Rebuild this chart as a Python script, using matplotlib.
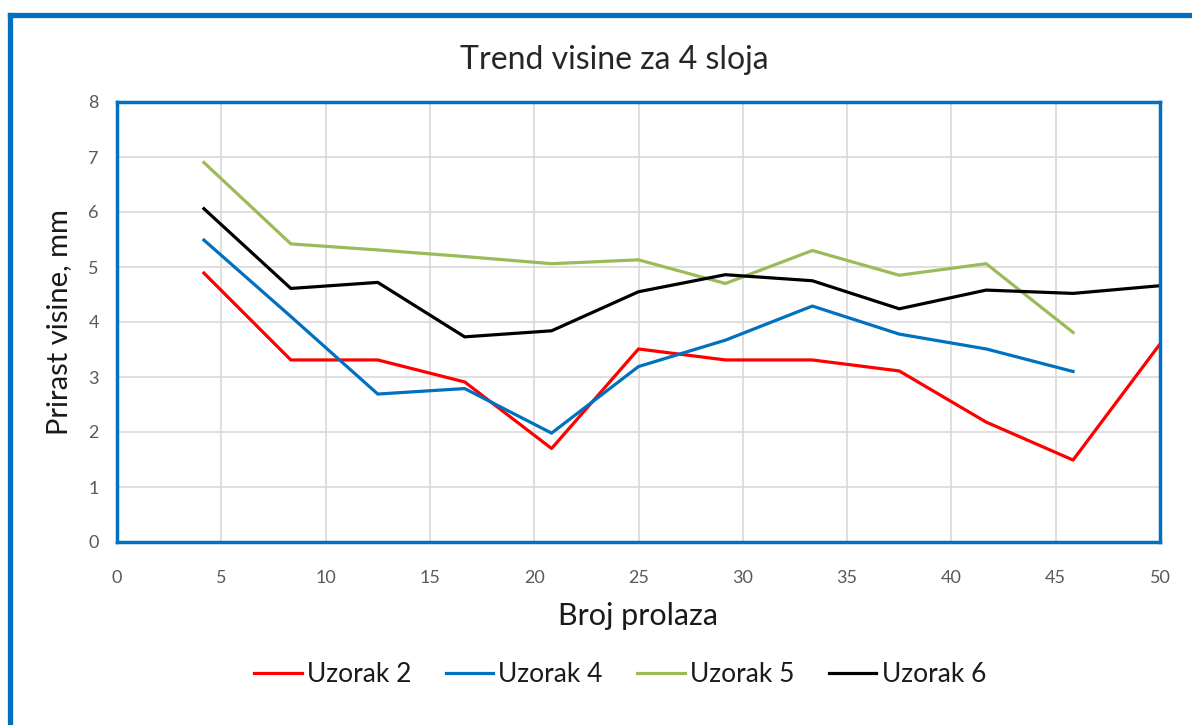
import numpy as np
import matplotlib
matplotlib.use('Agg')
import matplotlib.pyplot as plt
from matplotlib.lines import Line2D

# ========== Podaci ==========
broj_prolaza = [50 / 12 * k for k in range(1, 13)]

uzorak_2 = [4.89, 3.31, 3.31, 2.91, 1.70, 3.51, 3.31, 3.31, 3.11, 2.18, 1.49, 3.60]
uzorak_4 = [5.49, 4.10, 2.69, 2.79, 1.98, 3.19, 3.67, 4.29, 3.78, 3.51, 3.10]
uzorak_5 = [6.90, 5.42, 5.31, 5.19, 5.06, 5.13, 4.70, 5.30, 4.85, 5.06, 3.81]
uzorak_6 = [6.06, 4.61, 4.72, 3.73, 3.84, 4.55, 4.86, 4.75, 4.24, 4.58, 4.52, 4.66]

serije = ['Uzorak 2', 'Uzorak 4', 'Uzorak 5', 'Uzorak 6']
boje = ['#FF0000', '#0070C0', '#9BBB59', '#000000']

x_ticks = list(range(0, 51, 5))
y_ticks = list(range(0, 9))

plt.rcParams['font.family'] = ['Lato', 'DejaVu Sans']

# ========== Graf ==========
fig = plt.figure(figsize=(11.92, 7.25), dpi=100)
ax = fig.add_axes([117 / 1192, 1 - 542 / 725, (1160 - 117) / 1192, (542 - 102) / 725])

podaci = [uzorak_2, uzorak_4, uzorak_5, uzorak_6]
for ime, vrijednosti, boja in zip(serije, podaci, boje):
    ax.plot(broj_prolaza[:len(vrijednosti)], vrijednosti, color=boja, lw=2.3,
            label=ime, solid_joinstyle='round', clip_on=False)

ax.set_xlim(0, 50)
ax.set_ylim(0, 8)
ax.set_xticks(x_ticks)
ax.set_yticks(y_ticks)
ax.tick_params(length=0, labelsize=13, labelcolor='#595959')
ax.tick_params(axis='x', pad=20)
ax.tick_params(axis='y', pad=13)
ax.grid(True, color='#D9D9D9', lw=1.2)
ax.set_axisbelow(True)

for s in ax.spines.values():
    s.set_color('#0070C0')
    s.set_linewidth(2.5)

# naslov je malo lijevo od sredine osi, kao u originalu
ax.set_title('Trend visine za 4 sloja', fontsize=23, color='#262626', pad=24, x=0.4765)
ax.set_xlabel('Broj prolaza', fontsize=22, color='#1a1a1a', labelpad=12)
ax.set_ylabel('Prirast visine, mm', fontsize=21, color='#1a1a1a', labelpad=12)

leg = fig.legend(loc='center', bbox_to_anchor=(620 / 1192, 1 - 675 / 725), ncol=4,
                 frameon=False, fontsize=19, handlelength=1.8, handletextpad=0.2,
                 columnspacing=1.3)
for t in leg.get_texts():
    t.set_color('#1a1a1a')

# vanjski okvir (vidljivi dio)
fig.add_artist(Line2D([10 / 1192, 1], [1 - 15 / 725, 1 - 15 / 725],
                      transform=fig.transFigure, color='#0070C0', lw=3.8))
fig.add_artist(Line2D([10 / 1192, 10 / 1192], [0, 1 - 15 / 725],
                      transform=fig.transFigure, color='#0070C0', lw=3.8,
                      solid_capstyle='projecting'))

plt.savefig('out.png', dpi=100)
